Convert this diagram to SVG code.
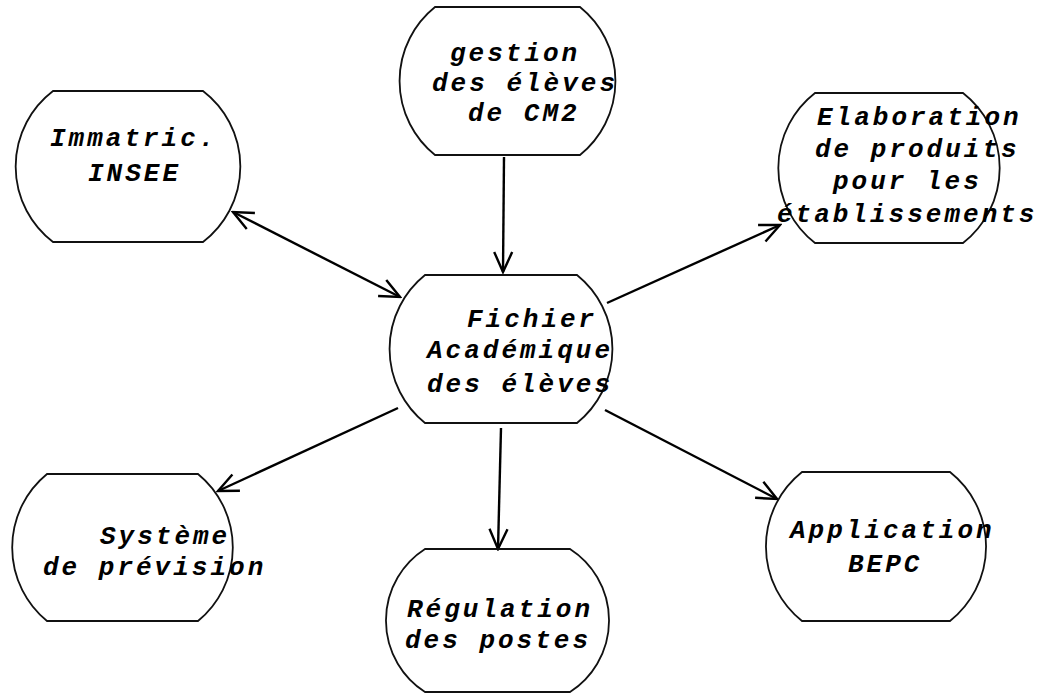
<svg xmlns="http://www.w3.org/2000/svg" width="1046" height="700" viewBox="0 0 1046 700">
<style>
.shape{fill:none;stroke:#111;stroke-width:1.8}
.lbl{font-family:"Liberation Mono","DejaVu Sans Mono",monospace;font-style:italic;font-weight:bold;font-size:26px;letter-spacing:3px;fill:#000}
.conn{fill:none;stroke:#000;stroke-width:2.4}
</style>
<defs>
<marker id="arr" viewBox="0 0 24 24" refX="22" refY="12" markerWidth="24" markerHeight="24" markerUnits="userSpaceOnUse" orient="auto-start-reverse">
<path d="M2,3 L22,12 L2,21" fill="none" stroke="#000" stroke-width="2.4"/>
</marker>
</defs>
<rect width="1046" height="700" fill="#fff"/>
<g id="connectors">
<line class="conn" x1="233" y1="212" x2="400" y2="297" marker-start="url(#arr)" marker-end="url(#arr)"/>
<line class="conn" x1="504" y1="157" x2="503" y2="272" marker-end="url(#arr)"/>
<line class="conn" x1="607" y1="303" x2="780" y2="225" marker-end="url(#arr)"/>
<line class="conn" x1="398" y1="408" x2="218" y2="491" marker-end="url(#arr)"/>
<line class="conn" x1="501" y1="428" x2="498" y2="549" marker-end="url(#arr)"/>
<line class="conn" x1="605" y1="410" x2="777" y2="499" marker-end="url(#arr)"/>
</g>
<g id="immatric">
<path class="shape" d="M53,91 L203,91 A95 95 0 0 1 203,242 L53,242 A95 95 0 0 1 53,91 Z"/>
<text class="lbl" x="50" y="146">Immatric.</text>
<text class="lbl" x="88" y="181">INSEE</text>
</g>
<g id="gestion">
<path class="shape" d="M435,7 L580,7 A95 95 0 0 1 580,155 L435,155 A95 95 0 0 1 435,7 Z"/>
<text class="lbl" x="450" y="61">gestion</text>
<text class="lbl" x="432" y="91">des élèves</text>
<text class="lbl" x="468" y="121">de CM2</text>
</g>
<g id="elaboration">
<path class="shape" d="M815,93 L963,93 A95 95 0 0 1 963,243 L815,243 A95 95 0 0 1 815,93 Z"/>
<text class="lbl" x="817" y="125">Elaboration</text>
<text class="lbl" x="815" y="157">de produits</text>
<text class="lbl" x="833" y="189">pour les</text>
<text class="lbl" x="777" y="222">établissements</text>
</g>
<g id="fichier">
<path class="shape" d="M425,275 L577,275 A95 95 0 0 1 577,423 L425,423 A95 95 0 0 1 425,275 Z"/>
<text class="lbl" x="467" y="327">Fichier</text>
<text class="lbl" x="427" y="358">Académique</text>
<text class="lbl" x="427" y="392">des élèves</text>
</g>
<g id="systeme">
<path class="shape" d="M47,474 L198,474 A95 95 0 0 1 198,621 L47,621 A95 95 0 0 1 47,474 Z"/>
<text class="lbl" x="100" y="544">Système</text>
<text class="lbl" x="43" y="575">de prévision</text>
</g>
<g id="regulation">
<path class="shape" d="M425,549 L570,549 A85 85 0 0 1 570,692 L425,692 A85 85 0 0 1 425,549 Z"/>
<text class="lbl" x="407" y="617">Régulation</text>
<text class="lbl" x="405" y="648">des postes</text>
</g>
<g id="application">
<path class="shape" d="M802,472 L950,472 A95 95 0 0 1 950,621 L802,621 A95 95 0 0 1 802,472 Z"/>
<text class="lbl" x="790" y="538">Application</text>
<text class="lbl" x="848" y="572">BEPC</text>
</g>
</svg>
